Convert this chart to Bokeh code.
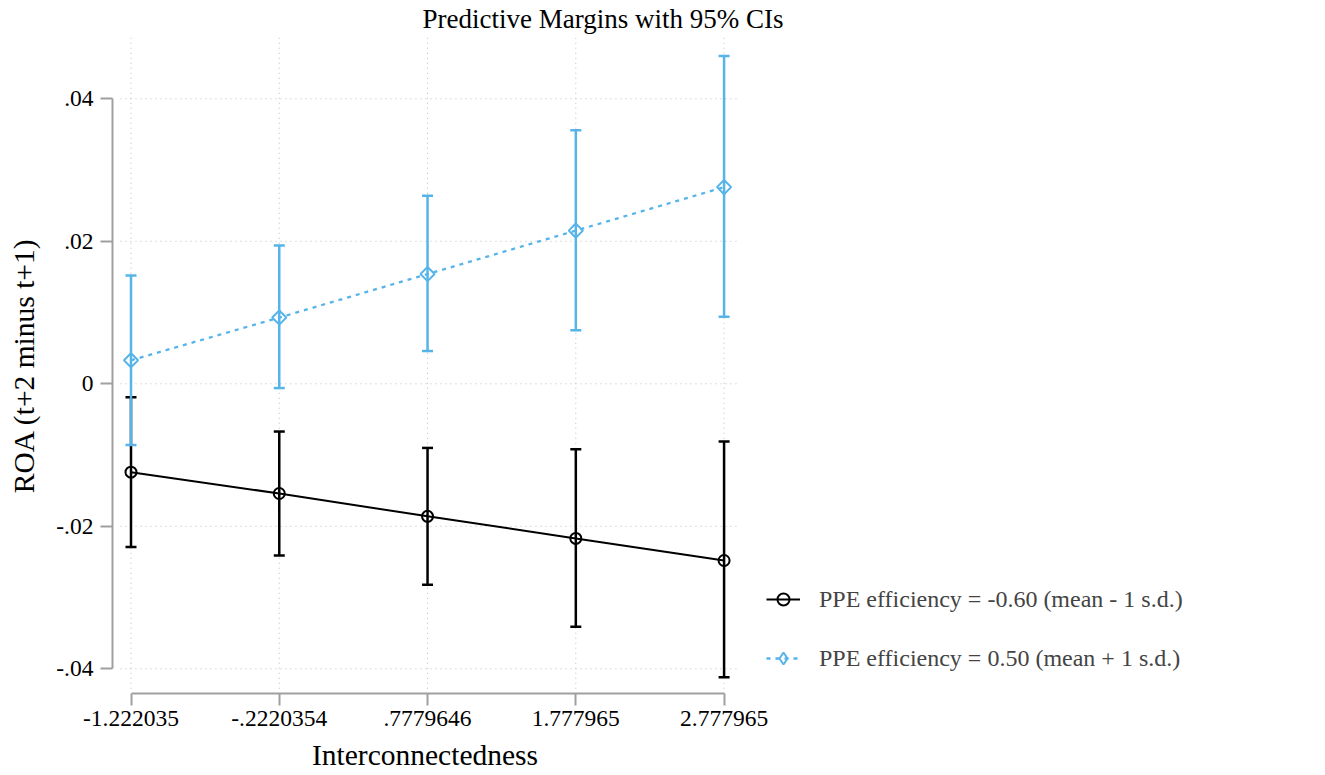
import math
from bokeh.plotting import figure
from bokeh.models import (ColumnDataSource, FixedTicker, Legend, LegendItem, Range1d, Title)
from bokeh.embed import file_html
from bokeh.resources import INLINE

# ---- data ----
x_values = [-1.222035, -0.2220354, 0.7779646, 1.777965, 2.777965]
x_tick_labels = ["-1.222035", "-.2220354", ".7779646", "1.777965", "2.777965"]
y_ticks = [-0.04, -0.02, 0.0, 0.02, 0.04]
y_tick_labels = ["-.04", "-.02", "0", ".02", ".04"]

low_margin = [-0.0124, -0.0154, -0.0186, -0.0217, -0.0248]
low_lower = [-0.0229, -0.0241, -0.0282, -0.0341, -0.0412]
low_upper = [-0.0019, -0.0067, -0.0090, -0.0092, -0.0081]

high_margin = [0.0033, 0.0093, 0.0154, 0.0215, 0.0276]
high_lower = [-0.0086, -0.0006, 0.0046, 0.0075, 0.0094]
high_upper = [0.0152, 0.0194, 0.0264, 0.0356, 0.0460]

low_label = "PPE efficiency = -0.60 (mean - 1 s.d.)"
high_label = "PPE efficiency = 0.50 (mean + 1 s.d.)"
title_text = "Predictive Margins with 95% CIs"
x_title = "Interconnectedness"
y_title = "ROA (t+2 minus t+1)"

# ---- style ----
FONT = "Liberation Serif"
BLACK = "#000000"
BLUE = "#56B4E9"
AXIS_GRAY = "#a0a0a0"
GRID_GRAY = "#bcbcbc"

FRAME_W, FRAME_H = 625, 656
x_range = Range1d(-1.34681, 2.86848)
y_range = Range1d(-0.043467, 0.048604)

p = figure(frame_width=FRAME_W, frame_height=FRAME_H,
           min_border_left=112, min_border_right=588, min_border_top=37, min_border_bottom=82,
           x_range=x_range, y_range=y_range,
           output_backend="svg", toolbar_location=None, tools="")
p.outline_line_color = None
p.background_fill_color = "white"
p.border_fill_color = "white"
p.xgrid.visible = False
p.ygrid.visible = False
# off-screen range used only so the legend key can show a diamond marker
p.extra_y_ranges = {"legend_key": Range1d(1, 2)}

p.add_layout(Title(text=title_text, align="left", offset=310, standoff=5,
                   vertical_align="middle", text_font=FONT, text_font_size="27px",
                   text_font_style="normal", text_color="black"), "above")

# custom grid (Stata plot region is inset from the axes)
gx0 = x_values[0] - 0.071
gy0 = y_ticks[0] - 0.0028
p.segment(x0=[gx0] * len(y_ticks), x1=[x_range.end] * len(y_ticks), y0=y_ticks, y1=y_ticks,
          line_color=GRID_GRAY, line_width=1, line_dash="1 4")
p.segment(x0=x_values, x1=x_values, y0=[gy0] * len(x_values), y1=[y_range.end] * len(x_values),
          line_color=GRID_GRAY, line_width=1, line_dash="1 4")

# axes
for ax in (p.xaxis[0], p.yaxis[0]):
    ax.axis_line_color = AXIS_GRAY
    ax.axis_line_width = 2
    ax.major_tick_line_color = AXIS_GRAY
    ax.major_tick_line_width = 2
    ax.major_tick_out = 12
    ax.major_tick_in = 0
    ax.minor_tick_line_color = None
    ax.major_label_text_font = FONT
    ax.major_label_text_font_size = "23.5px"
    ax.major_label_text_color = "black"
    ax.axis_label_text_font = FONT
    ax.axis_label_text_font_size = "29.5px"
    ax.axis_label_text_font_style = "normal"
    ax.axis_label_text_color = "black"

p.xaxis.ticker = FixedTicker(ticks=x_values)
p.xaxis.major_label_overrides = {v: s for v, s in zip(x_values, x_tick_labels)}
p.xaxis.bounds = (x_values[0], x_values[-1])
p.xaxis.axis_label = x_title
p.xaxis.major_label_standoff = 5
p.xaxis.axis_label_standoff = 10

p.yaxis.ticker = FixedTicker(ticks=y_ticks)
p.yaxis.major_label_overrides = {v: s for v, s in zip(y_ticks, y_tick_labels)}
p.yaxis.bounds = (y_ticks[0], y_ticks[-1])
p.yaxis.axis_label = y_title
p.yaxis.major_label_orientation = "horizontal"
p.yaxis.major_label_standoff = 7
p.yaxis.axis_label_standoff = 13

# confidence intervals
low_src = ColumnDataSource(dict(x=x_values, m=low_margin, lo=low_lower, hi=low_upper))
high_src = ColumnDataSource(dict(x=x_values, m=high_margin, lo=high_lower, hi=high_upper))

for src, col in ((low_src, BLACK), (high_src, BLUE)):
    p.segment(x0="x", x1="x", y0="lo", y1="hi", source=src, line_color=col, line_width=2.5)
    p.scatter(x="x", y="lo", source=src, marker="dash", size=11, line_color=col, line_width=2.5)
    p.scatter(x="x", y="hi", source=src, marker="dash", size=11, line_color=col, line_width=2.5)

# margins lines + markers
low_line = p.line(x="x", y="m", source=low_src, line_color=BLACK, line_width=2)
low_pts = p.scatter(x="x", y="m", source=low_src, marker="circle", size=11,
                    line_color=BLACK, line_width=2, fill_color=None)
high_line = p.line(x="x", y="m", source=high_src, line_color=BLUE, line_width=2.3, line_dash="4 5")
high_pts = p.scatter(x="x", y="m", source=high_src, marker="square", angle=math.pi / 4, size=10,
                     line_color=BLUE, line_width=2, fill_color=None)
# legend key (legend keys ignore marker angle); its points fall outside the visible range
high_key = p.scatter(x="x", y="m", source=high_src, marker="diamond", size=12,
                     line_color=BLUE, line_width=2, fill_color=None, y_range_name="legend_key")

legend = Legend(items=[LegendItem(label=low_label, renderers=[low_line, low_pts]),
                       LegendItem(label=high_label, renderers=[high_line, high_key])],
                location=(29, 20), padding=0, margin=0, spacing=29,
                glyph_width=34, glyph_height=30, label_height=30, label_standoff=19,
                label_text_font=FONT, label_text_font_size="24px",
                border_line_color=None, background_fill_alpha=0)
p.add_layout(legend, "right")

open("out.html", "w").write(file_html(p, INLINE))
